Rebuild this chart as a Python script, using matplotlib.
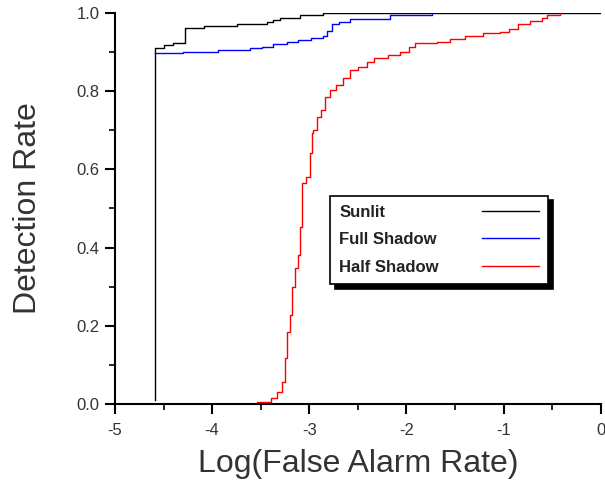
import matplotlib
matplotlib.use("Agg")
import matplotlib.pyplot as plt
from matplotlib.ticker import MultipleLocator

plt.rcParams['font.family'] = ['Liberation Sans', 'DejaVu Sans']

# ---- data ----
sunlit_x = [-4.59, -4.59, -4.50, -4.40, -4.28, -4.08, -3.74, -3.44, -3.37, -3.30, -3.10, -2.86, 0.0]
sunlit_y = [0.01, 0.910, 0.918, 0.923, 0.961, 0.968, 0.972, 0.977, 0.982, 0.987, 0.994, 1.0, 1.0]

full_x = [-4.59, -4.30, -3.94, -3.61, -3.49, -3.37, -3.23, -3.12, -2.98, -2.86, -2.82, -2.77,
          -2.69, -2.58, -2.17, -1.74]
full_y = [0.897, 0.901, 0.905, 0.910, 0.914, 0.920, 0.925, 0.931, 0.935, 0.940, 0.955, 0.972,
          0.978, 0.985, 0.995, 0.997]

half_x = [-3.54, -3.39, -3.33, -3.28, -3.25, -3.23, -3.20, -3.18, -3.15, -3.12, -3.10, -3.08,
          -3.07, -3.03, -2.99, -2.97, -2.96, -2.92, -2.88, -2.84, -2.79, -2.72, -2.65, -2.58,
          -2.50, -2.41, -2.33, -2.19, -2.07, -1.97, -1.91, -1.69, -1.55, -1.40, -1.21, -1.04,
          -0.94, -0.85, -0.73, -0.60, -0.55, -0.42]
half_y = [0.006, 0.015, 0.030, 0.056, 0.118, 0.184, 0.228, 0.299, 0.348, 0.381, 0.453, 0.517,
          0.565, 0.581, 0.642, 0.693, 0.701, 0.734, 0.752, 0.785, 0.803, 0.816, 0.834, 0.854,
          0.862, 0.875, 0.885, 0.893, 0.900, 0.913, 0.923, 0.926, 0.933, 0.941, 0.949, 0.951,
          0.959, 0.972, 0.980, 0.987, 0.995, 1.0]

labels = ["Sunlit", "Full Shadow", "Half Shadow"]
colors = ["#000000", "#0000ff", "#ff0000"]

fig = plt.figure(figsize=(6.05, 4.82), dpi=100)
ax = fig.add_axes([0.190, 0.162, 0.803, 0.811])

ax.step(sunlit_x, sunlit_y, where='post', color=colors[0], lw=1.0, label=labels[0])
ax.step(full_x, full_y, where='post', color=colors[1], lw=1.0, label=labels[1])
ax.step(half_x, half_y, where='post', color=colors[2], lw=1.0, label=labels[2])

ax.set_xlim(-5, 0)
ax.set_ylim(0, 1.0)
ax.xaxis.set_major_locator(MultipleLocator(1))
ax.xaxis.set_minor_locator(MultipleLocator(0.5))
ax.yaxis.set_major_locator(MultipleLocator(0.2))
ax.yaxis.set_minor_locator(MultipleLocator(0.1))
ax.yaxis.set_major_formatter(plt.FormatStrFormatter('%.1f'))
ax.xaxis.set_major_formatter(plt.FuncFormatter(lambda v, p: f"{v:.0f}"))

for s in ['top', 'right']:
    ax.spines[s].set_visible(False)
for s in ['left', 'bottom']:
    ax.spines[s].set_linewidth(1.5)
ax.tick_params(which='major', direction='out', length=7, width=1.5, labelsize=12, colors='black',
               labelcolor='#333333', pad=4)
ax.tick_params(axis='x', which='major', pad=7)
ax.tick_params(which='minor', direction='out', length=4.5, width=1.2)

ax.set_xlabel("Log(False Alarm Rate)", fontsize=23, color='#333333', labelpad=8)
ax.set_ylabel("Detection Rate", fontsize=23, color='#333333', labelpad=24)

leg = ax.legend(loc='upper left', bbox_to_anchor=(0.443, 0.533), markerfirst=False,
                fontsize=12, frameon=True, fancybox=False,
                shadow={'color': 'black', 'alpha': 1, 'ox': 3.5, 'oy': -3.5},
                edgecolor='black', handlelength=3.4, borderpad=0.55, labelspacing=0.75,
                handletextpad=1.0, borderaxespad=0)
leg.get_frame().set_linewidth(1.2)
for t in leg.get_texts():
    t.set_fontweight('bold')
    t.set_color('#222222')

# left-align the labels while keeping the sample lines lined up on the right
fig.canvas.draw()
r = fig.canvas.get_renderer()
col = leg._legend_handle_box.get_children()[0]
rows = col.get_children()
widths = [row.get_children()[0].get_bbox(r).width for row in rows]
base = 1.0 * 12 + 19
for row, w in zip(rows, widths):
    row.sep = base + (max(widths) - w) / r.points_to_pixels(1.0)

fig.savefig("out.png", dpi=100)
